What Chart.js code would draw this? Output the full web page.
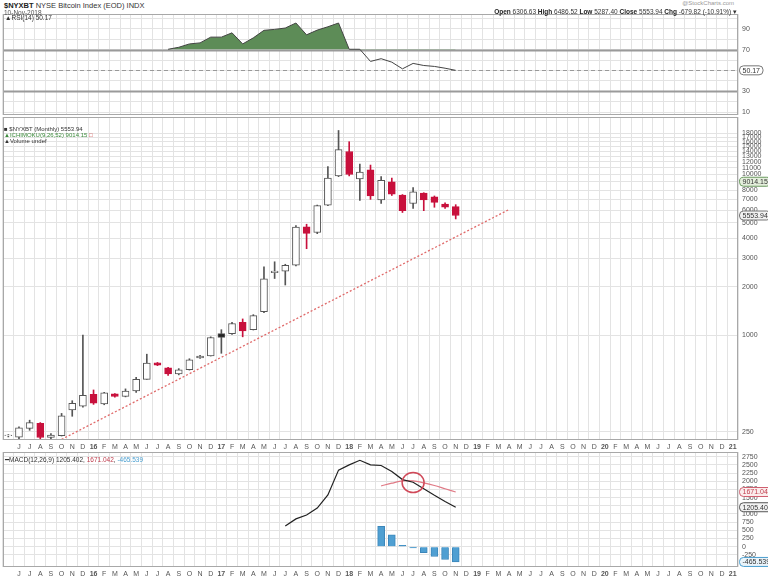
<!DOCTYPE html>
<html>
<head>
<meta charset="utf-8">
<script src="https://cdn.jsdelivr.net/npm/chart.js@4.4.1/dist/chart.umd.min.js"></script>
<style>
  body { margin: 0; background: #fff; width: 768px; height: 582px; overflow: hidden;
         font-family: "Liberation Sans", Arial, sans-serif; }
  canvas { position: absolute; left: 0; }
  .t { position: absolute; white-space: nowrap; color: #333; font-size: 7px; line-height: 7px; z-index: 2; }
  .t b { color: #222; }
</style>
</head>
<body>
<div class="t" style="left:4px;top:2px;font-size:7.5px"><b>$NYXBT</b> NYSE Bitcoin Index (EOD) INDX</div>
<div class="t" style="left:4px;top:9px;font-size:6.5px;color:#555">10-Nov-2018</div>
<div class="t" style="right:34px;top:0px;font-size:6px;color:#999">@StockCharts.com</div>
<div class="t" style="right:31px;top:8px;font-size:6.5px"><b>Open</b> 6306.63 <b>High</b> 6486.52 <b>Low</b> 5287.40 <b>Close</b> 5553.94 <b>Chg</b> -679.82 (-10.91%) ▾</div>
<div class="t" style="left:5px;top:14px;font-size:6.5px">▲RSI(14) 50.17</div>
<div class="t" style="left:4px;top:126px;font-size:6px">■ $NYXBT (Monthly) 5553.94</div>
<div class="t" style="left:4px;top:132px;font-size:6px;color:#3a8a3a">▲ICHIMOKU(9,26,52) 9014.15 <span style="color:#c33">□</span></div>
<div class="t" style="left:4px;top:138px;font-size:6px">▲Volume undef</div>
<div class="t" style="left:5px;top:456px;font-size:6.5px">━MACD(12,26,9) 1205.402, <span style="color:#c04050">1671.042</span>, <span style="color:#4a9fd0">-465.539</span></div>

<canvas id="rsi" width="768" height="101" style="top:14px"></canvas>
<canvas id="price" width="768" height="335" style="top:117px"></canvas>
<canvas id="macd" width="768" height="127" style="top:452px"></canvas>

<script>
// Monthly categories, May 2015 .. Jan 2021 (first month has no label)
const months = ['', 'J','J','A','S','O','N','D',
  '16','F','M','A','M','J','J','A','S','O','N','D',
  '17','F','M','A','M','J','J','A','S','O','N','D',
  '18','F','M','A','M','J','J','A','S','O','N','D',
  '19','F','M','A','M','J','J','A','S','O','N','D',
  '20','F','M','A','M','J','J','A','S','O','N','D',
  '21'];

// NYXBT monthly candles, May 2015 .. Nov 2018
const opens  = [236, 231, 262, 282, 230, 236, 342, 360, 428, 372, 430, 415, 448, 530, 672, 626, 572, 608, 720, 742,
  1020, 1020, 1200, 1080, 1400, 2450, 2500, 2720, 4720, 4350, 6450, 9800,
  13900, 9400, 10700, 6950, 9000, 7450, 6600, 7650, 7250, 6550, 6306.63];
const highs  = [240, 268, 295, 285, 243, 325, 390, 1000, 455, 440, 432, 462, 545, 760, 675, 630, 618, 712, 748, 975,
  1080, 1200, 1260, 1340, 2660, 2860, 2760, 4800, 4900, 6450, 11200, 18800,
  16000, 11600, 11450, 9700, 9500, 7500, 8300, 7700, 7350, 6650, 6486.52];
const lows   = [232, 226, 255, 222, 226, 235, 312, 355, 370, 368, 410, 412, 440, 530, 645, 560, 565, 605, 715, 740,
  770, 1010, 975, 1075, 1380, 2250, 2050, 2700, 3450, 4280, 6400, 9700,
  9800, 6900, 7000, 6600, 7400, 5800, 6150, 5950, 6250, 6150, 5287.40];
const closes = [238, 264, 285, 230, 238, 314, 375, 422, 376, 436, 415, 448, 530, 670, 650, 572, 608, 700, 740, 965,
  968, 1180, 1060, 1320, 2240, 2500, 2720, 4700, 4300, 6400, 9500, 14300,
  10000, 10350, 7350, 9200, 7550, 5950, 7800, 6950, 6700, 6250, 5553.94];

// dotted support line: two anchor months and their prices
const trendIdx = [5, 47];
const trendVal = [224, 6050];

// RSI(14), starts Aug 2016 (index 15)
const rsiVals = [null, null, null, null, null, null, null, null, null, null, null, null, null, null, null,
  70.3, 72.2, 75.4, 76.4, 81.9, 81.9, 86, 75.4, 81.2, 88.4, 89.3, 90.6, 95.4, 84.1, 88.6, 91.8, 95.4,
  70.3, 70.3, 58.7, 61.3, 58, 51.6, 56.8, 54.8, 53.9, 52.2, 50.17];

// MACD(12,26,9)
const macdLine = [null, null, null, null, null, null, null, null, null, null, null, null, null,
  null, null, null, null, null, null, null, null, null, null, null, null, null,
  630, 850, 970, 1180, 1580, 2340, 2500, 2640, 2500, 2480, 2300, 2050, 1970, 1770, 1570, 1380, 1205.402];
const macdSignal = [null, null, null, null, null, null, null, null, null, null, null, null, null,
  null, null, null, null, null, null, null, null, null, null, null, null, null,
  null, null, null, null, null, null, null, null, null, 1860, 1940, 2010, 2010, 1950, 1870, 1770, 1671.042];
const macdHist = [null, null, null, null, null, null, null, null, null, null, null, null, null,
  null, null, null, null, null, null, null, null, null, null, null, null, null,
  null, null, null, null, null, null, null, null, null, 620, 360, 40, -40, -185, -300, -390, -465.539];

const priceTicks = [250, 1000, 2000, 3000, 4000, 5000, 6000, 7000, 8000, 9000, 10000,
  11000, 12000, 13000, 14000, 15000, 16000, 17000, 18000];
const rsiTicks = [10, 20, 30, 40, 50, 60, 70, 80, 90, 100];
const rsiLabelled = [10, 30, 70, 90];
const macdTicks = [-250, 0, 250, 500, 750, 1000, 1250, 1500, 1750, 2000, 2250, 2500, 2750];

Chart.defaults.font.family = '"Liberation Sans", Arial, sans-serif';
Chart.defaults.font.size = 7;
Chart.defaults.color = '#555';

const GRID = '#e3e3e3';

// frame, value chips, reference lines and the circle annotation
const deco = {
  id: 'deco',
  beforeDatasetsDraw(chart, args, opts) {
    const { ctx, chartArea: a, scales: { y } } = chart;
    ctx.save();
    (opts.hlines || []).forEach(h => {
      const py = Math.round(y.getPixelForValue(h.value)) + 0.5;
      ctx.strokeStyle = h.color;
      ctx.lineWidth = h.width;
      ctx.setLineDash(h.dash || []);
      ctx.beginPath();
      ctx.moveTo(a.left, py);
      ctx.lineTo(a.right, py);
      ctx.stroke();
    });
    ctx.restore();
  },
  afterDraw(chart, args, opts) {
    const { ctx, chartArea: a, scales: { x, y } } = chart;
    ctx.save();
    ctx.strokeStyle = '#a8a8a8';
    ctx.lineWidth = 1;
    ctx.strokeRect(a.left + 0.5, a.top + 0.5, a.right - a.left - 1, a.bottom - a.top - 1);

    if (opts.circle) {
      const c = opts.circle;
      ctx.strokeStyle = '#d04858';
      ctx.lineWidth = 1.5;
      ctx.beginPath();
      ctx.ellipse(x.getPixelForValue(c.index), y.getPixelForValue(c.value), c.rx, c.ry, 0, 0, Math.PI * 2);
      ctx.stroke();
    }

    ctx.font = '7px "Liberation Sans", Arial';
    ctx.textBaseline = 'middle';
    (opts.tags || []).forEach(t => {
      const py = y.getPixelForValue(t.value);
      const w = ctx.measureText(t.text).width + 6;
      ctx.beginPath();
      ctx.roundRect(a.right + 1.5, py - 4.5, w, 9, 4);
      ctx.fillStyle = t.bg;
      ctx.fill();
      ctx.strokeStyle = t.border;
      ctx.lineWidth = 1;
      ctx.stroke();
      ctx.fillStyle = t.color;
      ctx.fillText(t.text, a.right + 4.5, py + 0.5);
    });
    ctx.restore();
  }
};

function xAxis(showLabels) {
  return {
    type: 'category',
    offset: true,
    grid: { offset: true, color: GRID, drawTicks: false },
    border: { display: false },
    ticks: {
      display: showLabels, autoSkip: false, maxRotation: 0, minRotation: 0, padding: 3, color: '#555',
      font: c => ({ size: 7, weight: (c.tick && /\d/.test(c.tick.label)) ? 'bold' : 'normal' })
    },
    afterFit: s => { s.height = showLabels ? 12 : 0; s.paddingLeft = 0; s.paddingRight = 0; }
  };
}

function yAxis(type, min, max, tickVals, label) {
  return {
    type: type, position: 'right', min: min, max: max,
    grid: { color: GRID, drawTicks: false },
    border: { display: false },
    afterBuildTicks: s => { s.ticks = tickVals.map(v => ({ value: v })); },
    ticks: { padding: 4, color: '#555', autoSkip: false, font: { size: 7 }, callback: label },
    afterFit: s => { s.width = 30; s.paddingTop = 0; s.paddingBottom = 0; }
  };
}

const common = {
  responsive: false,
  devicePixelRatio: 1,
  animation: false,
  events: [],
  layout: { padding: { left: 3, right: 0, top: 0, bottom: 0 } }
};

// ---- RSI panel
new Chart(document.getElementById('rsi'), {
  type: 'line',
  data: {
    labels: months,
    datasets: [{
      data: rsiVals,
      borderColor: '#444',
      borderWidth: 1,
      pointRadius: 0,
      tension: 0,
      fill: { target: { value: 70 }, above: '#5d8c57', below: 'rgba(0,0,0,0)' }
    }]
  },
  options: Object.assign({}, common, {
    scales: {
      x: xAxis(false),
      y: yAxis('linear', 7.5, 104, rsiTicks, v => rsiLabelled.includes(v) ? String(v) : '')
    },
    plugins: {
      legend: { display: false }, tooltip: { enabled: false },
      deco: {
        hlines: [
          { value: 70, color: '#9a9a9a', width: 2 },
          { value: 30, color: '#9a9a9a', width: 2 },
          { value: 50.17, color: '#999', width: 1, dash: [4, 3] }
        ],
        tags: [{ value: 50.17, text: '50.17', bg: '#fff', border: '#777', color: '#333' }]
      }
    }
  }),
  plugins: [deco]
});

// ---- Price panel (candles as floating bars)
const bodyFill = [], bodyEdge = [];
closes.forEach((c, i) => {
  const up = i === 0 || c >= closes[i - 1];
  const col = up ? '#222' : '#c8103c';
  bodyEdge.push(up ? '#555' : col);
  bodyFill.push(c >= opens[i] ? '#fff' : col);
});
const trendData = months.map((m, i) => {
  const k = trendIdx.indexOf(i);
  return k >= 0 ? trendVal[k] : null;
});

new Chart(document.getElementById('price'), {
  type: 'bar',
  data: {
    labels: months,
    datasets: [
      {
        type: 'line', data: trendData, spanGaps: true, order: 0,
        borderColor: '#e06a6a', borderWidth: 1.3, borderDash: [2, 2], pointRadius: 0
      },
      {
        data: opens.map((o, i) => [o, closes[i]]), order: 1, grouped: false,
        barThickness: 7, backgroundColor: bodyFill, borderColor: bodyEdge,
        borderWidth: 1, borderSkipped: false
      },
      {
        data: lows.map((l, i) => [l, highs[i]]), order: 2, grouped: false,
        barThickness: 1, backgroundColor: bodyEdge, borderWidth: 0
      }
    ]
  },
  options: Object.assign({}, common, {
    scales: {
      x: xAxis(true),
      y: yAxis('logarithmic', 222, 22810, priceTicks, v => String(v))
    },
    plugins: {
      legend: { display: false }, tooltip: { enabled: false },
      deco: {
        tags: [
          { value: 9014.15, text: '9014.15', bg: '#e4efdc', border: '#6a9a60', color: '#333' },
          { value: 5553.94, text: '5553.94', bg: '#f2f2f2', border: '#777', color: '#333' }
        ]
      }
    }
  }),
  plugins: [deco]
});

// ---- MACD panel
new Chart(document.getElementById('macd'), {
  type: 'bar',
  data: {
    labels: months,
    datasets: [
      {
        type: 'line', data: macdLine, order: 0, borderColor: '#222', borderWidth: 1.2,
        pointRadius: 0, tension: 0
      },
      {
        type: 'line', data: macdSignal, order: 1, borderColor: '#e07a86', borderWidth: 1.2,
        pointRadius: 0, tension: 0.3
      },
      {
        data: macdHist, order: 2, grouped: false, barThickness: 7,
        backgroundColor: '#4f9fd2', borderColor: '#3b86ba', borderWidth: 1
      }
    ]
  },
  options: Object.assign({}, common, {
    scales: {
      x: xAxis(true),
      y: yAxis('linear', -620, 2893, macdTicks, v => String(v))
    },
    plugins: {
      legend: { display: false }, tooltip: { enabled: false },
      deco: {
        circle: { index: 38, value: 1960, rx: 11, ry: 10 },
        tags: [
          { value: 1671.042, text: '1671.042', bg: '#fbecec', border: '#d06070', color: '#c04050' },
          { value: 1205.402, text: '1205.402', bg: '#f2f2f2', border: '#555', color: '#333' },
          { value: -465.539, text: '-465.539', bg: '#eaf4fa', border: '#4a9fd0', color: '#333' }
        ]
      }
    }
  }),
  plugins: [deco]
});
</script>
</body>
</html>
